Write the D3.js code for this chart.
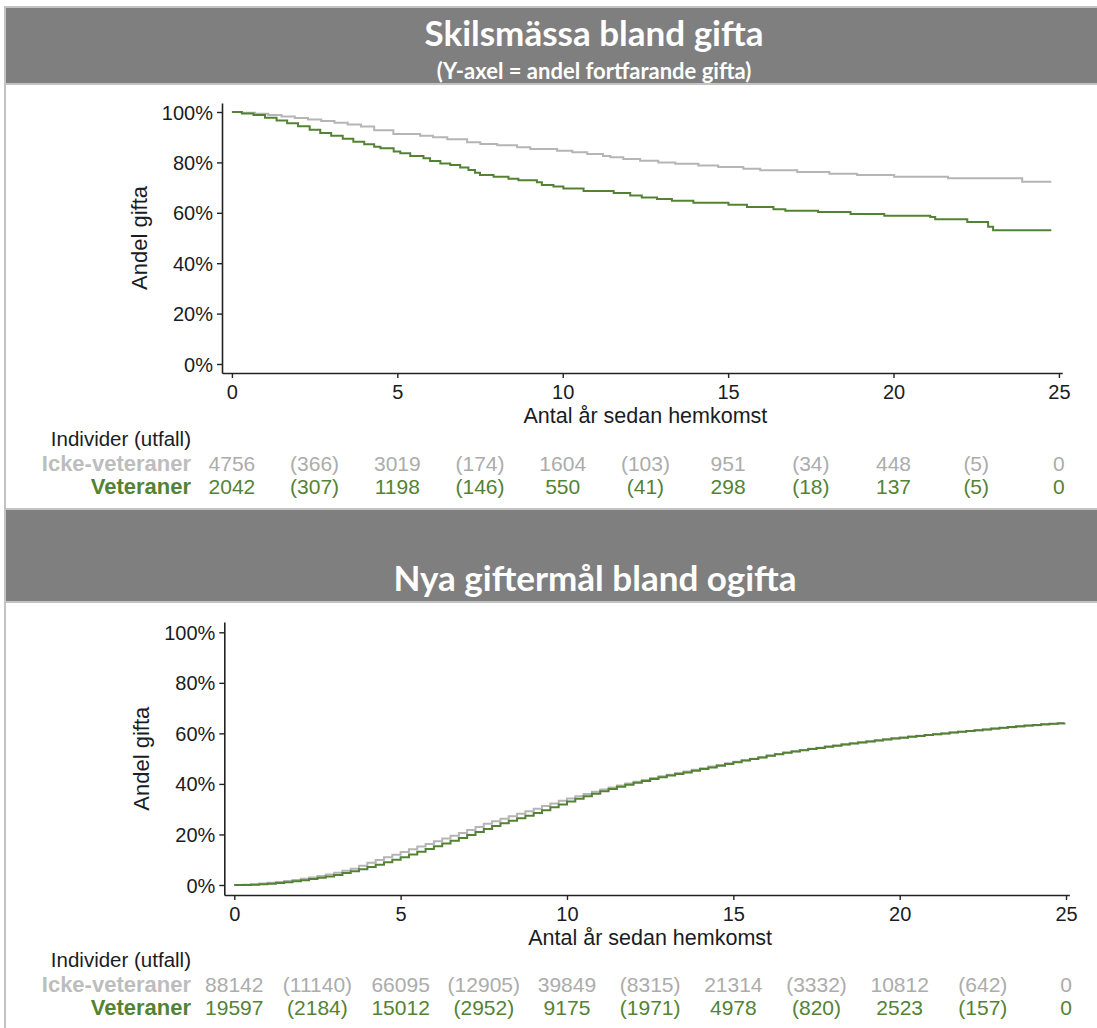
<!DOCTYPE html>
<html><head><meta charset="utf-8">
<script src="https://cdn.jsdelivr.net/npm/d3@7"></script>
<style>
html,body{margin:0;padding:0;background:#fff;}
svg{display:block;}
</style></head>
<body>
<svg id="chart" width="1097" height="1028"></svg>
<script>
// ---------- DATA ----------
const xTicks = [0, 5, 10, 15, 20, 25];
const yTicks = [0, 20, 40, 60, 80, 100];
const riskTimes = [0, 2.5, 5, 7.5, 10, 12.5, 15, 17.5, 20, 22.5, 25];
const rowLabels = ["Individer (utfall)", "Icke-veteraner", "Veteraner"];

const title1 = "Skilsmässa bland gifta";
const subtitle1 = "(Y-axel = andel fortfarande gifta)";
const title2 = "Nya giftermål bland ogifta";
const yLabel = "Andel gifta";
const xLabel = "Antal år sedan hemkomst";

// Panel 1: divorce (share still married), step points [years, %]
const divNonVet = [[0,100],[0.3,99.7],[0.7,99.3],[1.1,98.8],[1.5,98.2],[1.9,97.6],[2.3,97.0],[2.7,96.4],[3.1,95.7],[3.5,95.0],[3.9,94.2],[4.3,92.8],[4.88,91.3],[5.69,90.6],[6.08,90.0],[6.51,89.2],[7.11,88.0],[7.51,87.3],[8.02,86.8],[8.62,86.0],[9.02,85.3],[9.83,84.6],[10.29,84.0],[10.74,83.3],[11.22,82.5],[11.44,82.0],[11.83,81.3],[12.34,80.7],[12.89,80.0],[13.4,79.5],[14.1,78.8],[14.7,78.2],[15.46,77.5],[15.97,76.9],[17.09,76.2],[18.06,75.5],[18.9,75.0],[20.02,74.3],[21.65,73.7],[23.89,72.3],[24.77,72.3]];
const divVet = [[0,100],[0.3,99.4],[0.65,98.8],[1.0,97.7],[1.35,96.6],[1.67,95.5],[2.0,94.3],[2.35,93.0],[2.67,91.7],[3.0,90.6],[3.35,89.4],[3.67,88.2],[4.0,87.2],[4.3,86.2],[4.49,85.6],[4.89,84.3],[5.09,83.6],[5.39,82.5],[5.79,81.6],[5.99,80.6],[6.3,79.6],[6.6,79.0],[6.9,78.0],[7.15,77.0],[7.35,75.9],[7.5,75.0],[7.91,74.3],[8.36,73.5],[8.66,72.9],[9.22,72.1],[9.37,71.0],[9.72,70.4],[10.02,69.6],[10.63,68.7],[11.54,67.9],[12.04,66.9],[12.39,66.1],[12.85,65.5],[13.3,64.8],[13.95,64.0],[15.01,63.2],[15.57,62.3],[16.37,61.4],[16.73,60.8],[17.72,60.3],[18.7,59.5],[19.72,58.8],[21.11,58.3],[21.26,57.4],[22.23,56.3],[22.86,54.5],[23.01,53.1],[24.77,53.1]];

// Panel 2: new marriages among unmarried (share married), step points [years, %]
const marNonVet = [[0,0],[0.25,0.1],[0.5,0.3],[0.75,0.6],[1,0.9],[1.25,1.2],[1.5,1.6],[1.75,2.0],[2,2.5],[2.25,3.0],[2.5,3.6],[2.75,4.2],[3,4.8],[3.25,5.6],[3.5,6.4],[3.75,7.6],[4,8.8],[4.25,9.9],[4.5,11.0],[4.75,12.0],[5,13.1],[5.25,14.1],[5.5,15.2],[5.75,16.2],[6,17.3],[6.25,18.4],[6.5,19.5],[6.75,20.6],[7,21.8],[7.25,23.0],[7.5,24.2],[7.75,25.2],[8,26.2],[8.25,27.2],[8.5,28.2],[8.75,29.2],[9,30.2],[9.25,31.3],[9.5,32.3],[9.75,33.3],[10,34.2],[10.25,35.1],[10.5,36.0],[10.75,36.9],[11,37.8],[11.25,38.6],[11.5,39.4],[11.75,40.2],[12,40.9],[12.25,41.6],[12.5,42.3],[12.75,43.0],[13,43.6],[13.25,44.3],[13.5,44.9],[13.75,45.6],[14,46.2],[14.25,46.9],[14.5,47.5],[14.75,48.2],[15,48.8],[15.25,49.4],[15.5,50.0],[15.75,50.6],[16,51.2],[16.25,51.8],[16.5,52.4],[16.75,52.9],[17,53.4],[17.25,53.9],[17.5,54.3],[17.75,54.8],[18,55.2],[18.25,55.7],[18.5,56.1],[18.75,56.5],[19,56.9],[19.25,57.3],[19.5,57.7],[19.75,58.1],[20,58.4],[20.25,58.8],[20.5,59.1],[20.75,59.4],[21,59.7],[21.25,60.0],[21.5,60.3],[21.75,60.6],[22,60.9],[22.25,61.2],[22.5,61.5],[22.75,61.8],[23,62.1],[23.25,62.4],[23.5,62.7],[23.75,63.0],[24,63.2],[24.25,63.5],[24.5,63.7],[24.75,63.9],[24.95,64.1]];
const marVet = [[0,0],[0.25,0],[0.5,0.1],[0.75,0.3],[1,0.5],[1.25,0.8],[1.5,1.1],[1.75,1.5],[2,1.9],[2.25,2.4],[2.5,2.9],[2.75,3.4],[3,4.0],[3.25,4.7],[3.5,5.4],[3.75,6.2],[4,7.1],[4.25,8.0],[4.5,9.0],[4.75,10.0],[5,11.0],[5.25,12.1],[5.5,13.2],[5.75,14.2],[6,15.3],[6.25,16.4],[6.5,17.5],[6.75,18.6],[7,19.8],[7.25,21.0],[7.5,22.2],[7.75,23.3],[8,24.4],[8.25,25.4],[8.5,26.4],[8.75,27.4],[9,28.5],[9.25,29.6],[9.5,30.8],[9.75,31.9],[10,33.0],[10.25,34.1],[10.5,35.1],[10.75,36.1],[11,37.1],[11.25,38.0],[11.5,38.9],[11.75,39.7],[12,40.5],[12.25,41.2],[12.5,41.9],[12.75,42.6],[13,43.3],[13.25,43.9],[13.5,44.5],[13.75,45.2],[14,45.9],[14.25,46.5],[14.5,47.2],[14.75,47.9],[15,48.6],[15.25,49.3],[15.5,49.9],[15.75,50.5],[16,51.1],[16.25,51.7],[16.5,52.3],[16.75,52.8],[17,53.3],[17.25,53.8],[17.5,54.2],[17.75,54.7],[18,55.1],[18.25,55.6],[18.5,56.0],[18.75,56.4],[19,56.8],[19.25,57.2],[19.5,57.6],[19.75,58.0],[20,58.3],[20.25,58.7],[20.5,59.0],[20.75,59.4],[21,59.7],[21.25,60.0],[21.5,60.3],[21.75,60.6],[22,60.9],[22.25,61.2],[22.5,61.5],[22.75,61.9],[23,62.2],[23.25,62.5],[23.5,62.8],[23.75,63.1],[24,63.3],[24.25,63.6],[24.5,63.8],[24.75,64.0],[24.95,64.2]];

// Risk tables
const divRiskNonVet = ["4756","(366)","3019","(174)","1604","(103)","951","(34)","448","(5)","0"];
const divRiskVet = ["2042","(307)","1198","(146)","550","(41)","298","(18)","137","(5)","0"];
const marRiskNonVet = ["88142","(11140)","66095","(12905)","39849","(8315)","21314","(3332)","10812","(642)","0"];
const marRiskVet = ["19597","(2184)","15012","(2952)","9175","(1971)","4978","(820)","2523","(157)","0"];

// ---------- STYLE ----------
const C_GREY_LINE = "#b5b5b5";
const C_GREEN = "#548235";
const C_GREY_TXT = "#acacac";
const C_BAND = "#7f7f7f";
const C_FRAME = "#c3c3c3";
const C_TXT = "#1b1b24";
const FONT = "'Liberation Sans', Arial, sans-serif";
const HFONT = "Lato, 'Open Sans', sans-serif";

const svg = d3.select("#chart");

// ---------- FRAME / HEADERS ----------
function band(y, h) {
  svg.append("rect").attr("x", 5).attr("y", y).attr("width", 1095).attr("height", h)
    .attr("fill", C_BAND).attr("stroke", C_FRAME).attr("stroke-width", 2);
}
svg.append("line").attr("x1", 5).attr("x2", 5).attr("y1", 84).attr("y2", 510).attr("stroke", C_FRAME).attr("stroke-width", 2);
svg.append("line").attr("x1", 5).attr("x2", 5).attr("y1", 602).attr("y2", 1028).attr("stroke", C_FRAME).attr("stroke-width", 2);
band(7, 77);
band(509, 93);

svg.append("text").attr("x", 594).attr("y", 46).attr("text-anchor", "middle")
  .attr("font-family", HFONT).attr("font-weight", 700).attr("font-size", 35).attr("fill", "#fff").text(title1);
svg.append("text").attr("x", 594).attr("y", 79).attr("text-anchor", "middle")
  .attr("font-family", HFONT).attr("font-weight", 700).attr("font-size", 22).attr("fill", "#fff").text(subtitle1);
svg.append("text").attr("x", 595).attr("y", 591).attr("text-anchor", "middle")
  .attr("font-family", HFONT).attr("font-weight", 700).attr("font-size", 35).attr("fill", "#fff").text(title2);

// ---------- PANELS ----------
function panel(cfg) {
  const x = d3.scaleLinear().domain([-0.3, 25.1]).range([cfg.x0, cfg.x0 + 25.4 * cfg.xUnit]);
  const y = d3.scaleLinear().domain([cfg.yMinD, cfg.yMaxD]).range([cfg.yBottom, cfg.yTop]);

  const gy = svg.append("g").attr("transform", `translate(${cfg.x0},0)`)
    .call(d3.axisLeft(y).tickValues(yTicks).tickFormat(d => d + "%").tickSize(5).tickSizeOuter(0));
  const gx = svg.append("g").attr("transform", `translate(0,${cfg.yBottom})`)
    .call(d3.axisBottom(x).tickValues(xTicks).tickFormat(d3.format("d")).tickSize(5).tickSizeOuter(0));
  [gx, gy].forEach(g => {
    g.select(".domain").attr("stroke", "#222").attr("stroke-width", 1.6);
    g.selectAll(".tick line").attr("stroke", "#222").attr("stroke-width", 1.4);
    g.selectAll(".tick text").attr("font-family", FONT).attr("font-size", 20).attr("fill", C_TXT);
  });
  gy.selectAll(".tick text").attr("x", -9).attr("dy", "0.35em");
  gx.selectAll(".tick text").attr("y", 12).attr("dy", "0.71em");

  svg.append("text").attr("x", (x(0) + x(25)) / 2).attr("y", cfg.yBottom + 50).attr("text-anchor", "middle")
    .attr("font-family", FONT).attr("font-size", 21.5).attr("fill", C_TXT).text(xLabel);
  svg.append("text").attr("transform", `translate(${cfg.x0 - 75},${(y(0) + y(100)) / 2}) rotate(-90)`)
    .attr("text-anchor", "middle").attr("font-family", FONT).attr("font-size", 22).attr("fill", C_TXT).text(yLabel);

  const line = d3.line().x(d => x(d[0])).y(d => y(d[1])).curve(d3.curveStepAfter);
  svg.append("path").datum(cfg.grey).attr("d", line).attr("fill", "none")
    .attr("stroke", C_GREY_LINE).attr("stroke-width", 2);
  svg.append("path").datum(cfg.green).attr("d", line).attr("fill", "none")
    .attr("stroke", C_GREEN).attr("stroke-width", 2);

  // risk table
  const ry = cfg.riskY;
  svg.append("text").attr("x", 191).attr("y", ry[0]).attr("text-anchor", "end")
    .attr("font-family", FONT).attr("font-size", 20.5).attr("fill", C_TXT).text(rowLabels[0]);
  svg.append("text").attr("x", 191).attr("y", ry[1]).attr("text-anchor", "end")
    .attr("font-family", FONT).attr("font-weight", 700).attr("font-size", 22).attr("fill", "#bdbdbd").text(rowLabels[1]);
  svg.append("text").attr("x", 191).attr("y", ry[2]).attr("text-anchor", "end")
    .attr("font-family", FONT).attr("font-weight", 700).attr("font-size", 22).attr("fill", C_GREEN).text(rowLabels[2]);
  svg.append("g").selectAll("text").data(cfg.riskGrey).join("text")
    .attr("x", (d, i) => x(riskTimes[i])).attr("y", ry[1]).attr("text-anchor", "middle")
    .attr("font-family", FONT).attr("font-size", 21).attr("fill", C_GREY_TXT).text(d => d);
  svg.append("g").selectAll("text").data(cfg.riskGreen).join("text")
    .attr("x", (d, i) => x(riskTimes[i])).attr("y", ry[2]).attr("text-anchor", "middle")
    .attr("font-family", FONT).attr("font-size", 21).attr("fill", C_GREEN).text(d => d);
}

panel({
  x0: 222, xUnit: 33.08, yBottom: 373, yTop: 103,
  yMinD: -9 / 2.52, yMaxD: 100 + 9 / 2.52,
  grey: divNonVet, green: divVet, riskGrey: divRiskNonVet, riskGreen: divRiskVet,
  riskY: [446, 471, 494]
});
panel({
  x0: 224.3, xUnit: 33.27, yBottom: 895, yTop: 622,
  yMinD: -10 / 2.527, yMaxD: 100 + 10.3 / 2.527,
  grey: marNonVet, green: marVet, riskGrey: marRiskNonVet, riskGreen: marRiskVet,
  riskY: [967, 992, 1015]
});
</script>
</body></html>
